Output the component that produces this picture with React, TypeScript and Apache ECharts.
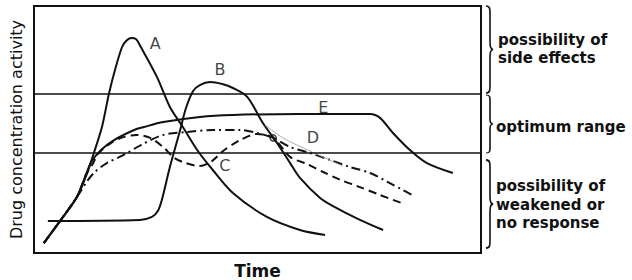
import React, { useEffect, useRef } from "react";
import * as echarts from "echarts";

// Curves: [time, level] on 0–100 scales
const curveA: number[][] = [
  [2.2, 4.0], [6.0, 13.4], [9.6, 22.7], [11.9, 32.4], [13.4, 40.5], [15.2, 51.0],
  [16.8, 64.8], [18.3, 75.3], [19.7, 83.4], [20.6, 85.8], [21.7, 87.0], [22.8, 86.6],
  [23.9, 83.4], [27.5, 71.3], [30.4, 59.1], [33.3, 51.0], [36.5, 41.7], [40.0, 33.6],
  [44.5, 24.3], [52.1, 14.6], [59.5, 9.3], [65.1, 7.3],
];
const curveB: number[][] = [
  [3.1, 13.0], [23.7, 13.4], [26.4, 14.6], [27.7, 17.0], [28.6, 21.5], [30.4, 34.8],
  [32.7, 49.8], [34.0, 58.7], [35.6, 65.6], [37.1, 68.0], [39.4, 69.2], [42.1, 68.4],
  [44.5, 66.8], [47.7, 63.2], [51.2, 52.6], [54.4, 44.5], [57.3, 36.4], [59.5, 30.4],
  [64.0, 22.3], [66.9, 19.0], [72.9, 13.4], [78.1, 9.3],
];
const curveC: number[][] = [
  [2.2, 4.0], [6.0, 13.4], [9.6, 22.7], [11.6, 31.6], [13.0, 35.6], [14.5, 40.5],
  [17.2, 44.5], [19.5, 46.6], [23.0, 47.8], [26.0, 46.6], [28.9, 42.9], [31.1, 38.9],
  [33.3, 36.8], [37.1, 35.2], [39.8, 37.2], [42.3, 41.3], [46.1, 45.7], [49.9, 48.2],
  [53.5, 46.6], [57.3, 38.9], [61.1, 36.0], [64.7, 32.8], [68.5, 29.6], [72.3, 27.1],
  [77.4, 23.5], [82.3, 20.2],
];
const curveD: number[][] = [
  [2.2, 4.0], [6.0, 13.4], [9.6, 22.7], [12.1, 29.6], [13.6, 32.8], [16.3, 36.4],
  [20.1, 39.7], [23.9, 43.7], [28.9, 47.8], [34.2, 49.0], [40.0, 49.8], [46.1, 49.8],
  [49.9, 48.6], [53.5, 46.6], [57.3, 42.9], [61.7, 40.5], [66.2, 37.7], [70.7, 34.8],
  [75.2, 32.4], [79.6, 28.3], [84.6, 23.5],
];
const curveE: number[][] = [
  [2.2, 4.0], [6.0, 13.4], [9.6, 22.7], [11.6, 31.6], [12.8, 36.8], [15.0, 41.7],
  [17.9, 45.7], [22.4, 49.8], [24.6, 51.0], [28.9, 53.0], [37.1, 55.1], [44.5, 55.9],
  [59.5, 56.3], [75.2, 56.3], [77.4, 54.7], [80.3, 48.6], [84.1, 41.7], [87.9, 36.4],
  [93.7, 32.4],
];
const pointerLine: number[][] = [[51.7, 51.8], [55.7, 46.6], [61.7, 41.3], [69.1, 35.2]];
const meetPoint: number[][] = [[53.5, 46.6]];

const curveLabels = ["A", "B", "C", "D", "E"];
const labelPositions: number[][] = [
  [27.1, 85.0], [41.6, 74.1], [42.7, 35.6], [62.4, 46.6], [64.7, 59.1],
];

// Range limits of the optimum band
const upperLimit = 64.4;
const lowerLimit = 40.5;

// Range annotations on the right
const zoneTexts = ["possibility of\nside effects", "optimum range", "possibility of\nweakened or\nno response"];
const yAxisTitle = "Drug concentration activity";
const xAxisTitle = "Time";

const bracePath =
  "M0,0 C5,0 5,3 5,10 L5,42 C5,48 7,50 9,50 C7,50 5,52 5,58 L5,90 C5,97 5,100 0,100";
echarts.graphic.registerShape("brace", echarts.graphic.extendPath(bracePath, {}));

export default function App() {
  const ref = useRef<HTMLDivElement>(null);
  useEffect(() => {
    document.body.style.margin = "0";
    if (!ref.current) return;
    const chart = echarts.init(ref.current, null, { renderer: "svg" });
    const font = "DejaVu Sans";
    const solid = { color: "#111", width: 2 };
    const lineBase = { type: "line", smooth: 0.3, symbol: "none" };
    const brace = (y0: number, y1: number) => ({
      type: "brace",
      x: 486,
      y: y0,
      scaleX: 0.8,
      scaleY: (y1 - y0) / 100,
      style: { fill: "none", stroke: "#111", lineWidth: 2 },
    });
    chart.setOption({
      animation: false,
      backgroundColor: "#fff",
      grid: {
        left: 34, right: 151, top: 6, bottom: 27, show: true, borderColor: "#111", borderWidth: 2,
        outerBoundsMode: "none", containLabel: false,
      },
      xAxis: {
        type: "value", min: 0, max: 100,
        axisLine: { show: false }, axisTick: { show: false }, axisLabel: { show: false }, splitLine: { show: false },
        name: xAxisTitle, nameLocation: "middle", nameGap: 9,
        nameTextStyle: { fontFamily: font, fontSize: 17, fontWeight: "bold", color: "#111" },
      },
      yAxis: {
        type: "value", min: 0, max: 100,
        axisLine: { show: false }, axisTick: { show: false }, axisLabel: { show: false }, splitLine: { show: false },
        name: yAxisTitle, nameLocation: "middle", nameGap: 10, nameRotate: 90,
        nameTextStyle: { fontFamily: font, fontSize: 16, color: "#111" },
      },
      series: [
        {
          ...lineBase, data: curveA, lineStyle: solid,
          markLine: {
            silent: true, symbol: "none", label: { show: false },
            lineStyle: { color: "#111", width: 1.5, type: "solid" },
            data: [{ yAxis: upperLimit }, { yAxis: lowerLimit }],
          },
        },
        { ...lineBase, data: curveB, lineStyle: solid },
        { ...lineBase, data: curveC, lineStyle: { color: "#111", width: 2, type: [8, 5] } },
        { ...lineBase, data: curveD, lineStyle: { color: "#111", width: 2, type: [9, 4, 2, 4] } },
        { ...lineBase, data: curveE, lineStyle: solid },
        { ...lineBase, data: pointerLine, lineStyle: { color: "#999", width: 0.8 } },
        {
          type: "scatter", data: meetPoint, symbol: "circle", symbolSize: 6,
          itemStyle: { color: "#fff", borderColor: "#111", borderWidth: 1.5 },
        },
        {
          type: "scatter", symbolSize: 0,
          data: curveLabels.map((n, i) => ({ name: n, value: labelPositions[i] })),
          label: { show: true, position: "inside", formatter: "{b}", fontFamily: font, fontSize: 16, color: "#111" },
        },
      ],
      graphic: [
        brace(6, 93),
        brace(95, 153),
        brace(160, 248),
        {
          type: "text", left: 498, top: 31,
          style: { text: zoneTexts[0], font: `bold 15px ${font}`, fill: "#111", lineHeight: 18 },
        },
        {
          type: "text", left: 496, top: 118,
          style: { text: zoneTexts[1], font: `bold 15px ${font}`, fill: "#111", lineHeight: 18 },
        },
        {
          type: "text", left: 496, top: 177,
          style: { text: zoneTexts[2], font: `bold 15px ${font}`, fill: "#111", lineHeight: 18.5 },
        },
      ],
    });
    return () => chart.dispose();
  }, []);
  return <div ref={ref} style={{ width: 632, height: 280 }} />;
}
